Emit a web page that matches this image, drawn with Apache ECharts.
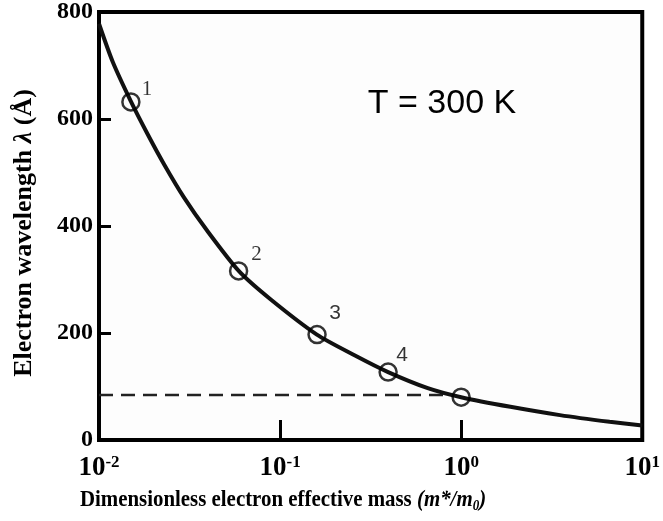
<!DOCTYPE html>
<html><head><meta charset="utf-8">
<script src="https://cdn.jsdelivr.net/npm/echarts@6/dist/echarts.min.js"></script>
<style>html,body{margin:0;padding:0;background:#fff}#c{width:663px;height:521px}</style>
</head><body><div id="c"></div>
<script>
// ---- data ----
const curveMass   = [0.01, 0.0119, 0.0150, 0.0186, 0.0229, 0.0295, 0.0396, 0.0591, 0.0878, 0.1596, 0.2592, 0.395, 0.654, 1.0, 1.87, 3.51, 6.60, 10];
const curveLambda = [778, 707, 633, 571, 515, 453, 391, 316, 264, 197, 158, 127, 97, 80, 62, 46.5, 34, 27];
const markerMass   = [0.015, 0.059, 0.16, 0.395, 1.0];
const markerLambda = [632, 316, 197, 127, 80];
const markerLabels = ['1', '2', '3', '4', ''];
const dashedMass   = [0.01, 0.81];
const dashedLambda = [84, 84];
const yTickValues  = [0, 200, 400, 600, 800];
const xTickExponents = [-2, -1, 0, 1];

// ---- styling ----
const SERIF = "'Liberation Serif','DejaVu Serif',serif";
const SANS = "'Liberation Sans','DejaVu Sans',sans-serif";
const labelOffsets = [[16, -12], [18, -16], [18, -21], [14, -17], [0, 0]];
const labelFonts = [SERIF, SERIF, SANS, SANS, SANS];

const chart = echarts.init(document.getElementById('c'), null, {renderer: 'canvas'});
const option = {
  animation: false,
  backgroundColor: '#ffffff',
  grid: {left: 99, right: 17, top: 10, bottom: 81, show: true, borderColor: '#000', borderWidth: 4, backgroundColor: '#fdfdfd'},
  xAxis: {
    type: 'log', logBase: 10, min: 0.01, max: 10,
    axisLine: {show: false},
    axisTick: {show: true, inside: true, length: 20, lineStyle: {color: '#000', width: 3}},
    minorTick: {show: false},
    splitLine: {show: false},
    axisLabel: {
      margin: 14,
      formatter: function (v) {
        const e = Math.round(Math.log10(v));
        if (xTickExponents.indexOf(e) < 0) return '';
        return '{b|10}{s|' + e + '}';
      },
      rich: {
        b: {fontFamily: SERIF, fontWeight: 'bold', fontSize: 27, color: '#000', lineHeight: 28},
        s: {fontFamily: SERIF, fontWeight: 'bold', fontSize: 17, color: '#000', verticalAlign: 'top', lineHeight: 28, padding: [0, 0, 12, 0]}
      }
    }
  },
  yAxis: {
    type: 'value', min: 0, max: 800, interval: 200,
    axisLine: {show: false},
    axisTick: {show: true, inside: true, length: 12, lineStyle: {color: '#000', width: 3}},
    splitLine: {show: false},
    axisLabel: {
      margin: 6,
      fontFamily: SERIF, fontWeight: 'bold', fontSize: 24, color: '#000',
      formatter: function (v) { return yTickValues.indexOf(v) >= 0 ? String(v) : ''; }
    }
  },
  graphic: [
    {type: 'text', x: 442, y: 104, style: {text: 'T = 300 K', font: "34px " + SANS, fill: '#000', textAlign: 'center', textVerticalAlign: 'middle'}},
    {type: 'text', x: 24, y: 233, rotation: Math.PI / 2, style: {
      text: '{a|Electron wavelength }{i|λ}{a| (Å)}', textAlign: 'center', textVerticalAlign: 'middle',
      rich: {
        a: {fontFamily: SERIF, fontWeight: 'bold', fontSize: 26, fill: '#000'},
        i: {fontFamily: SERIF, fontWeight: 'bold', fontStyle: 'italic', fontSize: 26, fill: '#000'}
      }}},
    {type: 'text', x: 283, y: 500, scaleX: 0.87, style: {
      text: '{a|Dimensionless electron effective mass }{i|(m*/m}{sub|0}{i|)}', textAlign: 'center', textVerticalAlign: 'middle',
      rich: {
        a: {fontFamily: SERIF, fontWeight: 'bold', fontSize: 24, fill: '#000', lineHeight: 28},
        i: {fontFamily: SERIF, fontWeight: 'bold', fontStyle: 'italic', fontSize: 24, fill: '#000', lineHeight: 28},
        sub: {fontFamily: SERIF, fontWeight: 'bold', fontStyle: 'italic', fontSize: 15, fill: '#000', lineHeight: 28, verticalAlign: 'bottom', padding: [8, 0, 0, 0]}
      }}}
  ],
  series: [
    {
      type: 'line', data: curveMass.map((m, i) => [m, curveLambda[i]]),
      smooth: 0.25, showSymbol: false, symbol: 'none',
      lineStyle: {color: '#111', width: 4}, z: 2
    },
    {
      type: 'line', data: dashedMass.map((m, i) => [m, dashedLambda[i]]),
      showSymbol: false, symbol: 'none',
      lineStyle: {color: '#222', width: 2.5, type: [14, 8]}, z: 1
    },
    {
      type: 'scatter', symbol: 'circle', symbolSize: 17, z: 3,
      itemStyle: {color: 'rgba(0,0,0,0)', borderColor: '#000', borderWidth: 2.5},
      data: markerMass.map((m, i) => ({
        value: [m, markerLambda[i]],
        label: {show: markerLabels[i] !== '', formatter: markerLabels[i], position: 'inside', offset: labelOffsets[i],
                fontFamily: labelFonts[i], fontSize: 21, color: '#000'}
      }))
    }
  ]
};
chart.setOption(option);
</script></body></html>
